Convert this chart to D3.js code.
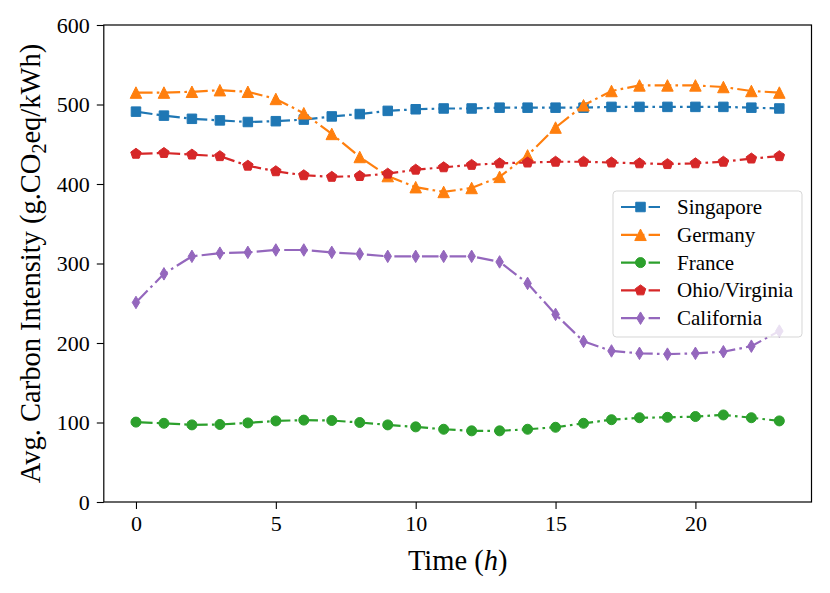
<!DOCTYPE html>
<html>
<head>
<meta charset="utf-8">
<script src="https://cdn.jsdelivr.net/npm/d3@7/dist/d3.min.js"></script>
<style>
  body { margin: 0; background: #fff; }
  text { font-family: "Liberation Serif", "Times New Roman", serif; fill: #000; }
</style>
</head>
<body>
<svg id="chart" width="830" height="593"></svg>
<script>
// hourly average carbon intensity per region
const hours = [0,1,2,3,4,5,6,7,8,9,10,11,12,13,14,15,16,17,18,19,20,21,22,23];

const singapore = [491,486,482,480,478,479,481,485,488,492,494,495,495,496,496,496,496,497,497,497,497,497,496,495];
const germany   = [515,515,516,518,516,507,489,463,434,410,396,390,395,409,436,471,499,517,524,524,524,522,517,515];
const france    = [100.5,99,97,97.5,99.5,102,103,102.5,100,97,94.5,91.5,89.5,89.5,91.5,94,99,103.5,106,106.5,107.5,109.5,106,102];
const ohio      = [438,439,437,435,423,416,411,409,410,413,418,421,424,426,427,428,428,427,426,425,426,428,432,435];
const california= [251,287,309,313,314,317,317,314,312,309,309,309,309,302,275,236,202,190,187,186,187,189,196,215];

const seriesNames = ["Singapore","Germany","France","Ohio/Virginia","California"];
const seriesValues = [singapore, germany, france, ohio, california];
const colors = ["#1f77b4","#ff7f0e","#2ca02c","#d62728","#9467bd"];
const markers = ["square","triangle","circle","pentagon","diamond"];

const xTicks = [0,5,10,15,20];
const yTicks = [0,100,200,300,400,500,600];

const svg = d3.select("#chart");

const plotLeft = 103.8, plotRight = 811.5, plotTop = 25, plotBottom = 502;

const x = d3.scaleLinear().domain([-1.15, 24.15]).range([plotLeft, plotRight]);
const y = d3.scaleLinear().domain([0, 600]).range([plotBottom, plotTop]);

// marker shapes, roughly like matplotlib's s ^ o p d
function markerPath(type, s) {
  const h = s / 2;
  if (type == "square") return `M${-h},${-h}h${s}v${s}h${-s}Z`;
  if (type == "triangle") return `M0,${-h}L${h},${h}L${-h},${h}Z`;
  if (type == "circle") return `M${h},0A${h},${h} 0 1,1 ${-h},0A${h},${h} 0 1,1 ${h},0Z`;
  if (type == "diamond") return `M0,${-h}L${h*0.6},0L0,${h}L${-h*0.6},0Z`;
  // pentagon
  const pts = d3.range(5).map(k => {
    const a = -Math.PI / 2 + k * 2 * Math.PI / 5;
    return [h * Math.cos(a), h * Math.sin(a)];
  });
  return "M" + pts.map(p => p.join(",")).join("L") + "Z";
}
const markerSize = {square: 9.5, triangle: 11.5, circle: 10, pentagon: 11, diamond: 12.5};

const dash = "16.6,4.2,2.6,4.2";

// axes
const xAxis = svg.append("g")
  .attr("transform", `translate(0,${plotBottom})`)
  .call(d3.axisBottom(x).tickValues(xTicks).tickSize(7).tickSizeOuter(0).tickPadding(6));
const yAxis = svg.append("g")
  .attr("transform", `translate(${plotLeft},0)`)
  .call(d3.axisLeft(y).tickValues(yTicks).tickSize(7).tickSizeOuter(0).tickPadding(7));

[xAxis, yAxis].forEach(g => {
  g.attr("font-family", null);
  g.select(".domain").remove();
  g.selectAll(".tick line").attr("stroke", "#000").attr("stroke-width", 1.1);
  g.selectAll(".tick text")
    .attr("font-size", 22)
    .attr("fill", "#000");
});
yAxis.selectAll(".tick text").attr("dy", "0.34em");

// lines and markers
const line = d3.line().x((d, i) => x(hours[i])).y(d => y(d));

seriesValues.forEach((vals, si) => {
  const g = svg.append("g");
  g.append("path")
    .datum(vals)
    .attr("d", line)
    .attr("fill", "none")
    .attr("stroke", colors[si])
    .attr("stroke-width", 2.2)
    .attr("stroke-dasharray", dash);
  g.selectAll("path.mk")
    .data(vals)
    .enter().append("path")
    .attr("class", "mk")
    .attr("d", markerPath(markers[si], markerSize[markers[si]]))
    .attr("transform", (d, i) => `translate(${x(hours[i])},${y(d)})`)
    .attr("fill", colors[si])
    .attr("stroke", colors[si])
    .attr("stroke-width", 1);
});

// frame
svg.append("rect")
  .attr("x", plotLeft).attr("y", plotTop)
  .attr("width", plotRight - plotLeft).attr("height", plotBottom - plotTop)
  .attr("fill", "none")
  .attr("stroke", "#000")
  .attr("stroke-width", 1.2);

// legend
const legend = svg.append("g");
legend.append("rect")
  .attr("x", 613).attr("y", 191)
  .attr("width", 189).attr("height", 146)
  .attr("rx", 3.5)
  .attr("fill", "#fff").attr("fill-opacity", 0.8)
  .attr("stroke", "#ccc").attr("stroke-opacity", 0.8);

seriesNames.forEach((name, si) => {
  const ly = 207 + si * 27.8;
  legend.append("line")
    .attr("x1", 621).attr("x2", 660)
    .attr("y1", ly).attr("y2", ly)
    .attr("stroke", colors[si])
    .attr("stroke-width", 2.2)
    .attr("stroke-dasharray", dash);
  legend.append("path")
    .attr("d", markerPath(markers[si], markerSize[markers[si]]))
    .attr("transform", `translate(640.5,${ly})`)
    .attr("fill", colors[si])
    .attr("stroke", colors[si]);
  legend.append("text")
    .attr("x", 677).attr("y", ly)
    .attr("dy", "0.33em")
    .attr("font-size", 21)
    .text(name);
});

// axis labels
svg.append("text")
  .attr("x", (plotLeft + plotRight) / 2).attr("y", 570)
  .attr("text-anchor", "middle")
  .attr("font-size", 28.5)
  .html('Time (<tspan font-style="italic">h</tspan>)');

svg.append("text")
  .attr("transform", `translate(40,${(plotTop + plotBottom) / 2}) rotate(-90)`)
  .attr("text-anchor", "middle")
  .attr("font-size", 28.5)
  .html('Avg. Carbon Intensity (g.CO<tspan font-size="20" dy="6">2</tspan><tspan dy="-6">eq/kWh)</tspan>');
</script>
</body>
</html>
